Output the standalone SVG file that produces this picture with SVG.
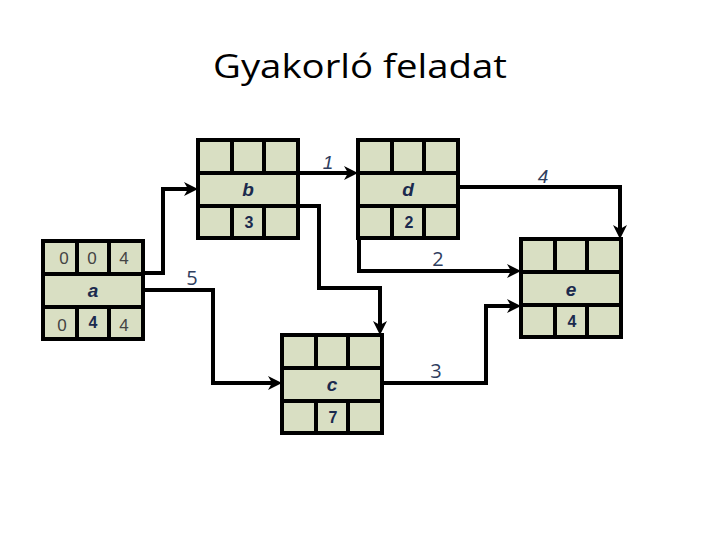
<svg xmlns="http://www.w3.org/2000/svg" width="720" height="540" viewBox="0 0 720 540">
<defs>
<style>
.cell{fill:#d9dfc3;stroke:#000;stroke-width:4}
.grid{stroke:#000;stroke-width:4;fill:none}
.name{font-family:"Liberation Sans",Arial,sans-serif;font-weight:bold;font-style:italic;font-size:19px;fill:#1b2a4e;text-anchor:middle}
.dur{font-family:"Liberation Sans",Arial,sans-serif;font-weight:bold;font-size:16px;fill:#1b2a4e;text-anchor:middle}
.gray{font-family:"Liberation Sans",Arial,sans-serif;font-size:17px;fill:#444;text-anchor:middle}
.lbl{font-family:"Open Sans","Liberation Sans",sans-serif;font-size:20px;fill:#2f3e5e;text-anchor:middle}
.lbli{font-family:"Liberation Sans",Arial,sans-serif;font-style:italic;font-size:19px;fill:#2f3e5e;text-anchor:middle}
.conn{stroke:#000;stroke-width:4;fill:none;marker-end:url(#arr)}
.title{font-family:"Open Sans","Liberation Sans",sans-serif;font-size:33px;fill:#000;text-anchor:middle}
</style>
<marker id="arr" viewBox="0 0 14 14" markerWidth="14" markerHeight="14" markerUnits="userSpaceOnUse" refX="6" refY="7" orient="auto">
<path d="M0,0 L14,7 L0,14 L4,7 z" fill="#000"/>
</marker>
<g id="box">
<rect class="cell" x="0" y="0" width="100" height="98"/>
<path class="grid" d="M0,33 H100 M0,66 H100 M34,0 V33 M66,0 V33 M34,66 V98 M66,66 V98"/>
</g>
</defs>
<text class="title" x="360" y="78" textLength="294" lengthAdjust="spacingAndGlyphs">Gyakorló feladat</text>
<g id="connectors">
<path class="conn" d="M143,273 H163 V189 H190"/>
<path class="conn" d="M298,173 H350"/>
<path class="conn" d="M458,187 H620 V231"/>
<path class="conn" d="M143,290 H213 V383 H274"/>
<path class="conn" d="M382,383 H486 V306 H513"/>
<path class="conn" d="M298,206 H319 V288 H380 V327"/>
<path class="conn" d="M359,238 V271 H513"/>
<text class="lbli" x="328" y="169">1</text>
<text class="lbli" x="543" y="183">4</text>
<text class="lbl" x="438" y="266">2</text>
<text class="lbl" x="192" y="285">5</text>
<text class="lbl" x="436" y="378">3</text>
</g>
<g id="node-a">
<use href="#box" x="43" y="241"/>
<text class="gray" x="64" y="264">0</text>
<text class="gray" x="92" y="264">0</text>
<text class="gray" x="124" y="264">4</text>
<text class="name" x="93" y="297">a</text>
<text class="gray" x="62" y="331">0</text>
<text class="dur" x="93" y="328">4</text>
<text class="gray" x="124" y="331">4</text>
</g>
<g id="node-b">
<use href="#box" x="198" y="140"/>
<text class="name" x="248" y="196">b</text>
<text class="dur" x="249" y="228">3</text>
</g>
<g id="node-d">
<use href="#box" x="358" y="140"/>
<text class="name" x="408" y="196">d</text>
<text class="dur" x="409" y="228">2</text>
</g>
<g id="node-e">
<use href="#box" x="521" y="239"/>
<text class="name" x="571" y="296">e</text>
<text class="dur" x="572" y="327">4</text>
</g>
<g id="node-c">
<use href="#box" x="282" y="335"/>
<text class="name" x="332" y="391">c</text>
<text class="dur" x="333" y="423">7</text>
</g>
</svg>
